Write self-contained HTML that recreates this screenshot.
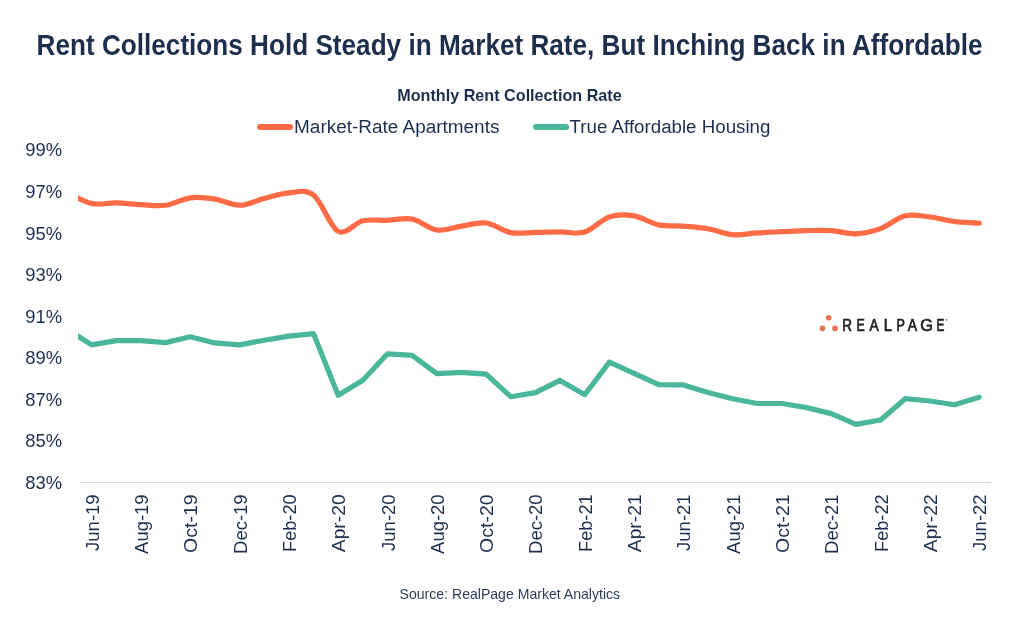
<!DOCTYPE html>
<html><head><meta charset="utf-8">
<style>
html,body{margin:0;padding:0;background:#fff;}
body{width:1020px;height:633px;overflow:hidden;}
svg{display:block;will-change:transform;}
text{font-family:"Liberation Sans",sans-serif;fill:#1d2f4d;}
.ax{font-size:18px;}
</style></head><body>
<svg width="1020" height="633" viewBox="0 0 1020 633">
<rect width="1020" height="633" fill="#fff"/>
<text x="36.6" y="54.8" font-size="29.2" font-weight="bold" textLength="946" lengthAdjust="spacingAndGlyphs">Rent Collections Hold Steady in Market Rate, But Inching Back in Affordable</text>
<text x="397.3" y="100.9" font-size="16.6" font-weight="bold" textLength="224.4" lengthAdjust="spacingAndGlyphs">Monthly Rent Collection Rate</text>
<line x1="260" y1="127" x2="290" y2="127" stroke="#ff6b45" stroke-width="6" stroke-linecap="round"/>
<text x="294.1" y="133" font-size="19.2" textLength="205.3" lengthAdjust="spacingAndGlyphs">Market-Rate Apartments</text>
<line x1="536" y1="127" x2="566" y2="127" stroke="#4ab79b" stroke-width="6" stroke-linecap="round"/>
<text x="569.6" y="133" font-size="19.2" textLength="200.8" lengthAdjust="spacingAndGlyphs">True Affordable Housing</text>
<text x="62" y="156.3" text-anchor="end" style="font-size:18.4px">99%</text><text x="62" y="197.9" text-anchor="end" style="font-size:18.4px">97%</text><text x="62" y="239.5" text-anchor="end" style="font-size:18.4px">95%</text><text x="62" y="281.1" text-anchor="end" style="font-size:18.4px">93%</text><text x="62" y="322.7" text-anchor="end" style="font-size:18.4px">91%</text><text x="62" y="364.3" text-anchor="end" style="font-size:18.4px">89%</text><text x="62" y="405.8" text-anchor="end" style="font-size:18.4px">87%</text><text x="62" y="447.4" text-anchor="end" style="font-size:18.4px">85%</text><text x="62" y="489.0" text-anchor="end" style="font-size:18.4px">83%</text>
<line x1="79.2" y1="482.3" x2="991" y2="482.3" stroke="#dcdadf" stroke-width="1.3"/>
<text transform="translate(98.66,494.40) rotate(-90)" text-anchor="end" class="ax" textLength="56.50" lengthAdjust="spacingAndGlyphs">Jun-19</text><text transform="translate(147.97,494.40) rotate(-90)" text-anchor="end" class="ax" textLength="59.50" lengthAdjust="spacingAndGlyphs">Aug-19</text><text transform="translate(197.28,494.40) rotate(-90)" text-anchor="end" class="ax" textLength="58.50" lengthAdjust="spacingAndGlyphs">Oct-19</text><text transform="translate(246.58,494.40) rotate(-90)" text-anchor="end" class="ax" textLength="59.50" lengthAdjust="spacingAndGlyphs">Dec-19</text><text transform="translate(295.89,494.40) rotate(-90)" text-anchor="end" class="ax" textLength="57.50" lengthAdjust="spacingAndGlyphs">Feb-20</text><text transform="translate(345.20,494.40) rotate(-90)" text-anchor="end" class="ax" textLength="57.80" lengthAdjust="spacingAndGlyphs">Apr-20</text><text transform="translate(394.51,494.40) rotate(-90)" text-anchor="end" class="ax" textLength="56.50" lengthAdjust="spacingAndGlyphs">Jun-20</text><text transform="translate(443.82,494.40) rotate(-90)" text-anchor="end" class="ax" textLength="59.50" lengthAdjust="spacingAndGlyphs">Aug-20</text><text transform="translate(493.12,494.40) rotate(-90)" text-anchor="end" class="ax" textLength="58.50" lengthAdjust="spacingAndGlyphs">Oct-20</text><text transform="translate(542.43,494.40) rotate(-90)" text-anchor="end" class="ax" textLength="59.50" lengthAdjust="spacingAndGlyphs">Dec-20</text><text transform="translate(591.74,494.40) rotate(-90)" text-anchor="end" class="ax" textLength="57.50" lengthAdjust="spacingAndGlyphs">Feb-21</text><text transform="translate(641.05,494.40) rotate(-90)" text-anchor="end" class="ax" textLength="57.80" lengthAdjust="spacingAndGlyphs">Apr-21</text><text transform="translate(690.36,494.40) rotate(-90)" text-anchor="end" class="ax" textLength="56.50" lengthAdjust="spacingAndGlyphs">Jun-21</text><text transform="translate(739.66,494.40) rotate(-90)" text-anchor="end" class="ax" textLength="59.50" lengthAdjust="spacingAndGlyphs">Aug-21</text><text transform="translate(788.97,494.40) rotate(-90)" text-anchor="end" class="ax" textLength="58.50" lengthAdjust="spacingAndGlyphs">Oct-21</text><text transform="translate(838.28,494.40) rotate(-90)" text-anchor="end" class="ax" textLength="59.50" lengthAdjust="spacingAndGlyphs">Dec-21</text><text transform="translate(887.59,494.40) rotate(-90)" text-anchor="end" class="ax" textLength="57.50" lengthAdjust="spacingAndGlyphs">Feb-22</text><text transform="translate(936.90,494.40) rotate(-90)" text-anchor="end" class="ax" textLength="57.80" lengthAdjust="spacingAndGlyphs">Apr-22</text><text transform="translate(986.20,494.40) rotate(-90)" text-anchor="end" class="ax" textLength="56.50" lengthAdjust="spacingAndGlyphs">Jun-22</text>
<defs><clipPath id="pa"><rect x="78" y="130" width="930" height="360"/></clipPath></defs>
<g clip-path="url(#pa)" fill="none" stroke-width="5.2" stroke-linecap="round" stroke-linejoin="round">
<path d="M67.01,192.80 C71.11,194.58 83.44,201.82 91.66,203.50 C99.88,205.18 108.10,202.70 116.31,202.90 C124.53,203.10 132.75,204.30 140.97,204.70 C149.19,205.10 157.40,206.45 165.62,205.30 C173.84,204.15 182.06,198.83 190.28,197.80 C198.49,196.77 206.71,197.87 214.93,199.10 C223.15,200.33 231.37,205.30 239.58,205.20 C247.80,205.10 256.02,200.57 264.24,198.50 C272.46,196.43 280.67,193.38 288.89,192.80 C297.11,192.22 305.33,188.60 313.55,195.00 C321.76,201.40 329.98,226.90 338.20,231.20 C346.42,235.50 354.64,222.62 362.85,220.80 C371.07,218.98 379.29,220.58 387.51,220.30 C395.73,220.02 403.94,217.48 412.16,219.10 C420.38,220.72 428.60,228.83 436.82,230.00 C445.03,231.17 453.25,227.27 461.47,226.10 C469.69,224.93 477.91,221.92 486.12,223.00 C494.34,224.08 502.56,231.03 510.78,232.60 C519.00,234.17 527.21,232.53 535.43,232.40 C543.65,232.27 551.87,231.85 560.09,231.80 C568.30,231.75 576.52,234.58 584.74,232.10 C592.96,229.62 601.18,219.60 609.39,216.90 C617.61,214.20 625.83,214.57 634.05,215.90 C642.27,217.23 650.48,223.18 658.70,224.90 C666.92,226.62 675.14,225.55 683.36,226.20 C691.57,226.85 699.79,227.38 708.01,228.80 C716.23,230.22 724.45,234.02 732.66,234.70 C740.88,235.38 749.10,233.40 757.32,232.90 C765.54,232.40 773.75,232.08 781.97,231.70 C790.19,231.32 798.41,230.78 806.63,230.60 C814.84,230.42 823.06,230.07 831.28,230.60 C839.50,231.13 847.72,234.13 855.93,233.80 C864.15,233.47 872.37,231.60 880.59,228.60 C888.81,225.60 897.02,217.73 905.24,215.80 C913.46,213.87 921.68,216.05 929.90,217.00 C938.11,217.95 946.33,220.47 954.55,221.50 C962.77,222.53 975.09,222.92 979.20,223.20" stroke="#ff6b45"/>
<path d="M67.01,329.20 L91.66,344.90 L116.31,340.60 L140.97,340.60 L165.62,342.60 L190.28,336.70 L214.93,342.90 L239.58,344.90 L264.24,340.20 L288.89,336.10 L313.55,333.70 L338.20,395.20 L362.85,380.20 L387.51,353.80 L412.16,355.30 L436.82,373.60 L461.47,372.40 L486.12,374.10 L510.78,396.70 L535.43,392.60 L560.09,380.40 L584.74,394.80 L609.39,362.10 L634.05,373.30 L658.70,384.70 L683.36,384.90 L708.01,392.60 L732.66,398.80 L757.32,403.50 L781.97,403.50 L806.63,407.60 L831.28,413.60 L855.93,424.40 L880.59,420.00 L905.24,398.70 L929.90,401.00 L954.55,404.80 L979.20,397.20" stroke="#4ab79b"/>
</g>
<g fill="#ea7251">
<circle cx="828.7" cy="317.8" r="2.8"/><circle cx="822.5" cy="328.4" r="2.8"/><circle cx="835" cy="328.4" r="2.8"/>
</g>
<text transform="translate(842.24,331.0) scale(0.853,1)" font-size="15.8" style="fill:#202124;stroke:#202124;stroke-width:0.7">R</text><text transform="translate(856.54,331.0) scale(0.782,1)" font-size="15.8" style="fill:#202124;stroke:#202124;stroke-width:0.7">E</text><text transform="translate(869.52,331.0) scale(0.869,1)" font-size="15.8" style="fill:#202124;stroke:#202124;stroke-width:0.7">A</text><text transform="translate(883.64,331.0) scale(0.933,1)" font-size="15.8" style="fill:#202124;stroke:#202124;stroke-width:0.7">L</text><text transform="translate(896.52,331.0) scale(0.797,1)" font-size="15.8" style="fill:#202124;stroke:#202124;stroke-width:0.7">P</text><text transform="translate(907.82,331.0) scale(0.888,1)" font-size="15.8" style="fill:#202124;stroke:#202124;stroke-width:0.7">A</text><text transform="translate(920.23,331.0) scale(1.028,1)" font-size="15.8" style="fill:#202124;stroke:#202124;stroke-width:0.7">G</text><text transform="translate(936.58,331.0) scale(0.747,1)" font-size="15.8" style="fill:#202124;stroke:#202124;stroke-width:0.7">E</text><circle cx="946.5" cy="319.9" r="0.8" fill="#666"/>
<text x="399.6" y="599.3" font-size="15" style="fill:#2c3c56" textLength="220.5" lengthAdjust="spacingAndGlyphs">Source: RealPage Market Analytics</text>
</svg>
</body></html>
